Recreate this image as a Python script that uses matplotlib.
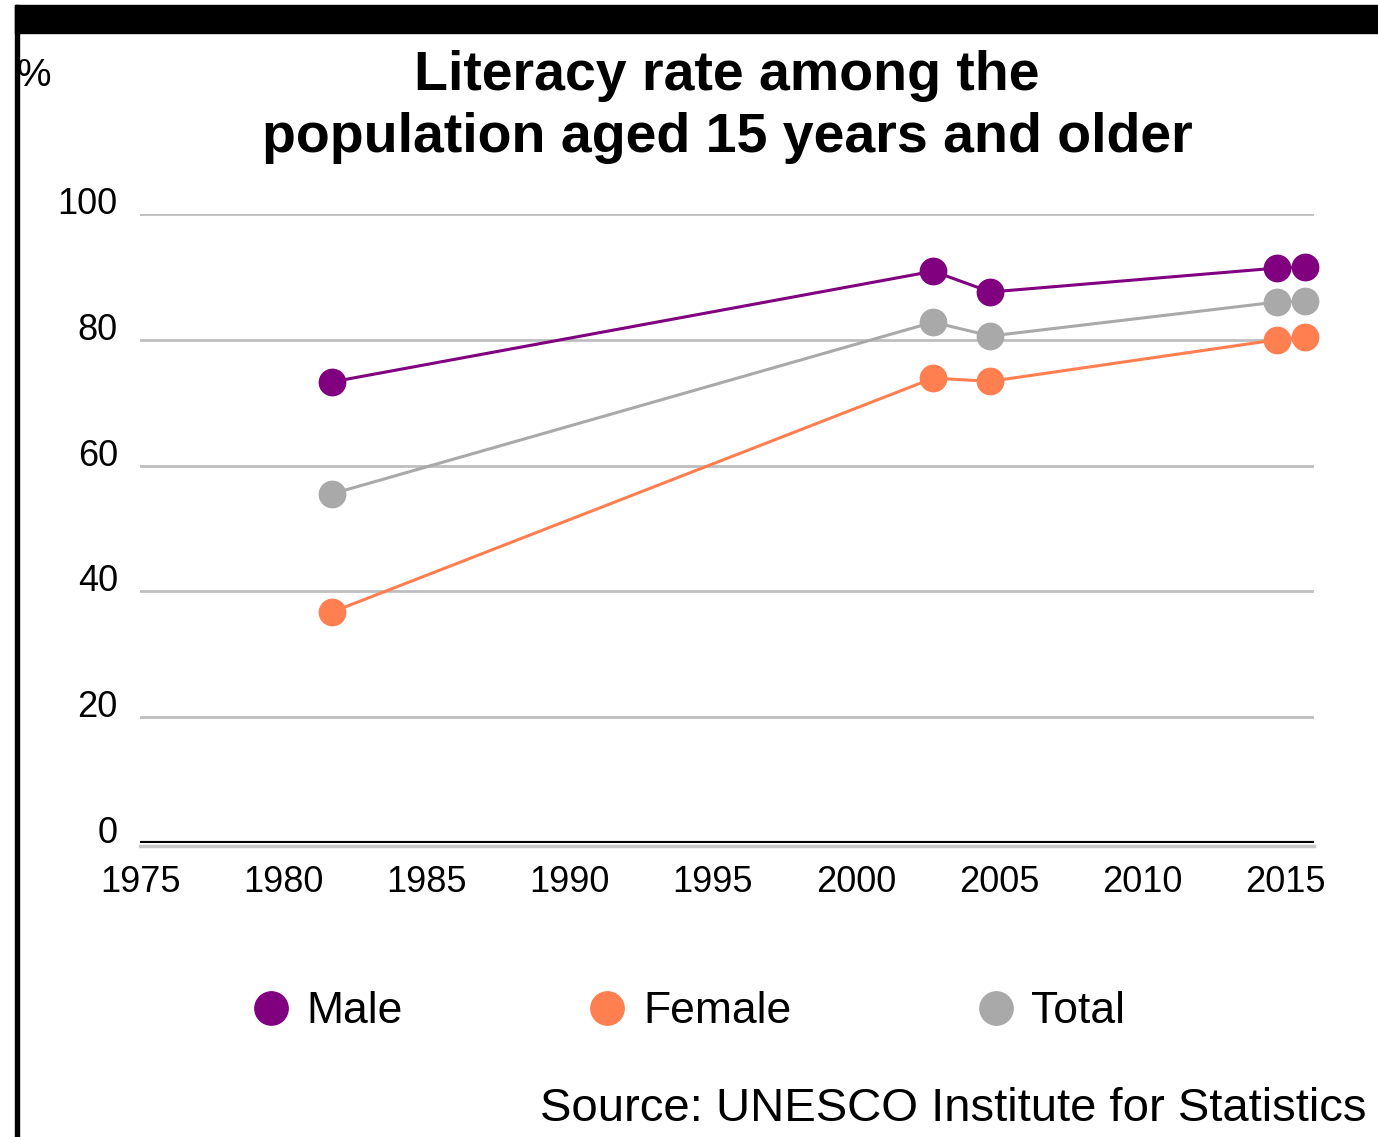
import matplotlib.pyplot as plt
from matplotlib.patches import Rectangle
from matplotlib.lines import Line2D

plt.rcParams['font.family'] = ['Liberation Sans', 'DejaVu Sans']

years = [1981.7, 2002.7, 2004.7, 2014.7, 2015.7]
male = [73.3, 90.9, 87.6, 91.4, 91.6]
female = [36.7, 73.9, 73.4, 80.0, 80.4]
total = [55.5, 82.8, 80.6, 86.0, 86.2]

series_names = ['Male', 'Female', 'Total']
series_colors = ['#800080', '#FF7F50', '#A9A9A9']

x_ticks = [1975, 1980, 1985, 1990, 1995, 2000, 2005, 2010, 2015]
y_ticks = [0, 20, 40, 60, 80, 100]

fig = plt.figure(figsize=(13.78, 11.37), dpi=100)
ax = fig.add_axes([0.1016, 0.2586, 0.852, 0.5532])

for vals, name, col in zip([male, female, total], series_names, series_colors):
    ax.plot(years, vals, color=col, lw=2.2, marker='o', markersize=20,
            markeredgewidth=0, label=name, zorder=3, clip_on=False)

ax.set_xlim(1975, 2016.0)
ax.set_ylim(0, 100)
ax.set_xticks(x_ticks)
ax.set_yticks(y_ticks)
ax.set_xticklabels([str(t) for t in x_ticks], fontsize=26)
ax.set_yticklabels([str(t) for t in y_ticks], fontsize=26)
ax.tick_params(length=0)
ax.tick_params(axis='x', pad=16)
ax.tick_params(axis='y', pad=16)
for lab in ax.get_yticklabels():
    lab.set_verticalalignment('baseline')
ax.grid(axis='y', color='#BEBEBE', lw=2)
# baseline at zero: black with a light grey shadow underneath
ax.axhline(-0.45, color='#C8C8C8', lw=2.5, zorder=4, clip_on=False)
ax.axhline(0, color='black', lw=3, zorder=5)
for s in ax.spines.values():
    s.set_visible(False)

# title and % label
fig.text(0.5275, 0.906, 'Literacy rate among the\npopulation aged 15 years and older',
         ha='center', va='center', fontsize=40, fontweight='bold', linespacing=1.26)
fig.text(0.012, 0.933, '%', ha='left', va='center', fontsize=28)

# legend
handles = [Line2D([], [], marker='o', color=c, lw=0, markersize=24) for c in series_colors]
leg = fig.legend(handles, series_names, loc='center', bbox_to_anchor=(0.497, 0.11),
                 ncol=3, frameon=False, fontsize=32, columnspacing=4.0,
                 handletextpad=0.2, handlelength=1.2)

fig.text(0.392, 0.025, 'Source: UNESCO Institute for Statistics', ha='left', va='center',
         fontsize=34)

# frame: black band on top and a line down the left side
fig.patches.append(Rectangle((0.011, 0.971), 0.989, 0.025, transform=fig.transFigure,
                             color='black', zorder=5))
fig.patches.append(Rectangle((0.011, 0.0), 0.003, 0.996, transform=fig.transFigure,
                             color='black', zorder=5))

fig.savefig('out.png', dpi=100)
